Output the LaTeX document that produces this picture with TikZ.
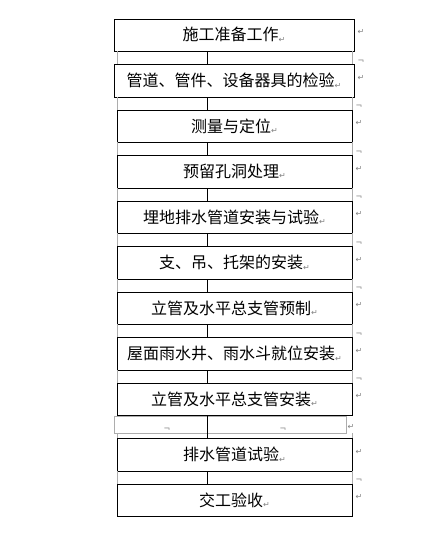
\documentclass[tikz,border=0pt]{standalone}
\usepackage{fontspec}
\newfontfamily\cjk{Noto Sans CJK SC}
\newfontfamily\marksym{DejaVu Sans}
\usetikzlibrary{positioning}

\definecolor{markgray}{gray}{0.5}
\definecolor{gridgray}{gray}{0.68}

% Word formatting marks
\newcommand{\pmark}{{\color{markgray}\marksym\fontsize{8}{8}\selectfont\raisebox{-1.5pt}{↵}}}
\newcommand{\cellend}{{\color{markgray}\marksym\fontsize{8}{8}\selectfont ¬}}

\tikzset{
  flowbox/.style={draw, line width=0.8pt, minimum width=235pt, minimum height=32pt,
    inner sep=0pt, font=\cjk\fontsize{16}{18}\selectfont},
  rowmark/.style={inner sep=0pt, xshift=3pt, yshift=3pt},
  cellmark/.style={inner sep=0pt, xshift=3pt, yshift=19pt},
  gridline/.style={draw=gridgray, line width=0.7pt},
  link/.style={draw, line width=0.8pt}
}

\begin{document}
\begin{tikzpicture}[x=1pt, y=-1pt]
  \useasboundingbox (0,0) rectangle (428,533);

  % columns of the table
  \coordinate (spine) at (207,0);
  \coordinate (lgrid) at (117,0);
  \coordinate (rgrid) at (352,0);

  % steps
  \node[flowbox, minimum width=240pt, label={[rowmark]right:\pmark}] (prep) at (234,35) {施工准备工作\pmark};
  \node[flowbox, minimum width=240pt, minimum height=33pt, label={[rowmark]right:\pmark},
    label={[cellmark]right:\cellend}] (check) at (234,80.5) {管道、管件、设备器具的检验\pmark};
  \node[flowbox, label={[rowmark]right:\pmark}, label={[cellmark]right:\cellend}] (survey) at (234.5,126) {测量与定位\pmark};
  \node[flowbox, minimum height=33pt, label={[rowmark]right:\pmark}, label={[cellmark]right:\cellend}] (holes) at (234.5,171.5) {预留孔洞处理\pmark};
  \node[flowbox, label={[rowmark]right:\pmark}, label={[cellmark]right:\cellend}] (buried) at (234.5,217) {埋地排水管道安装与试验\pmark};
  \node[flowbox, minimum height=33pt, label={[rowmark]right:\pmark}, label={[cellmark]right:\cellend}] (hanger) at (234.5,262.5) {支、吊、托架的安装\pmark};
  \node[flowbox, label={[rowmark]right:\pmark}, label={[cellmark]right:\cellend}] (prefab) at (234.5,308) {立管及水平总支管预制\pmark};
  \node[flowbox, minimum height=33pt, label={[rowmark]right:\pmark}, label={[cellmark]right:\cellend}] (roof) at (234.5,353.5) {屋面雨水井、雨水斗就位安装\pmark};
  \node[flowbox, label={[rowmark]right:\pmark}, label={[cellmark]right:\cellend}] (riser) at (234.5,399) {立管及水平总支管安装\pmark};
  \node[flowbox, minimum height=33pt, label={[rowmark]right:\pmark}] (test) at (234.5,454.5) {排水管道试验\pmark};
  \node[flowbox, label={[rowmark]right:\pmark}, label={[cellmark]right:\cellend}] (accept) at (234.5,500) {交工验收\pmark};

  % table borders in the gaps
  \draw[gridline] (prep.south -| lgrid) -- (check.north -| lgrid);
  \draw[gridline] (prep.south -| rgrid) -- (check.north -| rgrid);
  \draw[gridline] (check.south -| lgrid) -- (survey.north -| lgrid);
  \draw[gridline] (check.south -| rgrid) -- (survey.north -| rgrid);
  \draw[gridline] (survey.south -| lgrid) -- (holes.north -| lgrid);
  \draw[gridline] (survey.south -| rgrid) -- (holes.north -| rgrid);
  \draw[gridline] (holes.south -| lgrid) -- (buried.north -| lgrid);
  \draw[gridline] (holes.south -| rgrid) -- (buried.north -| rgrid);
  \draw[gridline] (buried.south -| lgrid) -- (hanger.north -| lgrid);
  \draw[gridline] (buried.south -| rgrid) -- (hanger.north -| rgrid);
  \draw[gridline] (hanger.south -| lgrid) -- (prefab.north -| lgrid);
  \draw[gridline] (hanger.south -| rgrid) -- (prefab.north -| rgrid);
  \draw[gridline] (prefab.south -| lgrid) -- (roof.north -| lgrid);
  \draw[gridline] (prefab.south -| rgrid) -- (roof.north -| rgrid);
  \draw[gridline] (roof.south -| lgrid) -- (riser.north -| lgrid);
  \draw[gridline] (roof.south -| rgrid) -- (riser.north -| rgrid);
  \draw[gridline] (test.south -| lgrid) -- (accept.north -| lgrid);
  \draw[gridline] (test.south -| rgrid) -- (accept.north -| rgrid);

  % the odd row between installation and test
  \coordinate (gaptl) at (114,416);
  \coordinate (gapbr) at (346,433);
  \draw[gridline] (gaptl) rectangle (gapbr);
  \draw[gridline] (gapbr -| lgrid) -- (test.north -| lgrid);
  \draw[gridline] (gapbr -| rgrid) -- (test.north -| rgrid);
  \node[inner sep=0pt] (gapmarka) at (167,430) {\cellend};
  \node[inner sep=0pt] (gapmarkb) at (283,430) {\cellend};
  \node[inner sep=0pt] (gapmarkc) at (351,427) {\pmark};

  % flow line
  \draw[link] (prep.south -| spine) -- (check.north -| spine);
  \draw[link] (check.south -| spine) -- (survey.north -| spine);
  \draw[link] (survey.south -| spine) -- (holes.north -| spine);
  \draw[link] (holes.south -| spine) -- (buried.north -| spine);
  \draw[link] (buried.south -| spine) -- (hanger.north -| spine);
  \draw[link] (hanger.south -| spine) -- (prefab.north -| spine);
  \draw[link] (prefab.south -| spine) -- (roof.north -| spine);
  \draw[link] (roof.south -| spine) -- (riser.north -| spine);
  \draw[link] (riser.south -| spine) -- (test.north -| spine);
  \draw[link] (test.south -| spine) -- (accept.north -| spine);
\end{tikzpicture}
\end{document}
